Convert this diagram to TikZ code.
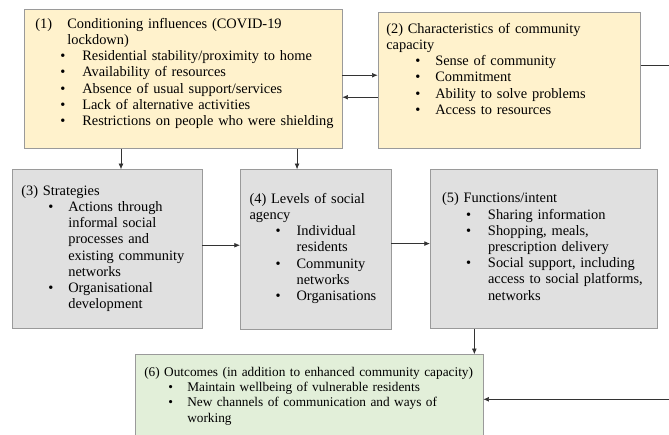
\documentclass[tikz,border=0pt]{standalone}
\usepackage{fontspec}
\setmainfont{Liberation Serif}
\usetikzlibrary{arrows.meta,calc}

\definecolor{capyellow}{HTML}{FFF2CC}
\definecolor{stepgray}{HTML}{E0E0E0}
\definecolor{outgreen}{HTML}{E2EFD9}
\definecolor{boxline}{HTML}{9A9A9A}
\definecolor{linkgray}{HTML}{333333}

% bullet position and text position inside a panel
\newlength\bulx
\newlength\txtx
\newcommand{\setbul}[2]{\setlength\bulx{#1}\setlength\txtx{#2}%
  \rightskip=-10pt plus 1fil\hyphenpenalty=10000\exhyphenpenalty=10000}
\newcommand{\itm}[1]{\par\leftskip=\txtx\noindent\llap{\makebox[\dimexpr\txtx-\bulx\relax][l]{\textbullet}}#1}

\begin{document}
\begin{tikzpicture}[x=1pt,y=-1pt,
    panel/.style n args={4}{draw=boxline, line width=0.6pt, anchor=north west, inner ysep=0pt,
        inner xsep=#1, text width=#2, text height=#3, text depth=#4, align=left,
        font=\fontsize{14.4}{16.2}\selectfont},
    smalltext/.style={font=\fontsize{13.3}{15.3}\selectfont},
    link/.style={draw=linkgray, line width=0.7pt, -{Latex[length=2mm,width=1.7mm]}}]

\useasboundingbox (0,0) rectangle (669,435);

% top row
\node[panel={10.7pt}{296pt}{18.7pt}{120pt}, fill=capyellow] (box1) at (24.3,9.3)
    {\setbul{25pt}{47pt}\hangindent=32pt\hangafter=1\noindent\makebox[32pt][l]{(1)}Conditioning influences (COVID-19\newline lockdown)
     \itm{Residential stability/proximity to home}
     \itm{Availability of resources}
     \itm{Absence of usual support/services}
     \itm{Lack of alternative activities}
     \itm{Restrictions on people who were shielding}\par};
\node[panel={8.3pt}{245.7pt}{21.3pt}{115.3pt}, fill=capyellow] (box2) at (377.7,11.7)
    {\setbul{29pt}{49pt}(2) Characteristics of community\newline capacity
     \itm{Sense of community}
     \itm{Commitment}
     \itm{Ability to solve problems}
     \itm{Access to resources}\par};

% middle row
\node[panel={9.3pt}{171.4pt}{25.7pt}{133pt}, fill=stepgray] (box3) at (11.7,169.3)
    {\setbul{27pt}{47pt}(3) Strategies
     \itm{Actions through\newline informal social\newline processes and\newline existing community\newline networks}
     \itm{Organisational\newline development}\par};
\node[panel={9.3pt}{132.1pt}{33.7pt}{126.3pt}, fill=stepgray] (box4) at (240,169.3)
    {\setbul{26pt}{47pt}(4) Levels of social\newline agency
     \itm{Individual\newline residents}
     \itm{Community\newline networks}
     \itm{Organisations}\par};
\node[panel={11.7pt}{203.3pt}{33.4pt}{125.6pt}, fill=stepgray] (box5) at (430,169.3)
    {\setbul{24pt}{46pt}(5) Functions/intent
     \itm{Sharing information}
     \itm{Shopping, meals,\newline prescription delivery}
     \itm{Social support, including\newline access to social platforms,\newline networks}\par};

% bottom
\node[panel={9pt}{329.7pt}{21.7pt}{67.7pt}, smalltext, fill=outgreen] (box6) at (135,354.3)
    {\setbul{24pt}{43pt}(6) Outcomes (in addition to enhanced community capacity)
     \itm{Maintain wellbeing of vulnerable residents}
     \itm{New channels of communication and ways of\newline working}\par};

% links
\coordinate (r1) at ([yshift=3.7pt]box1.east);
\coordinate (r2) at ([yshift=-18.3pt]box1.east);
\draw[link] (r1) -- (r1 -| box2.west);
\draw[link] (r2 -| box2.west) -- (r2);

\coordinate (d1) at ([xshift=14pt]box3.north);
\coordinate (d2) at ([xshift=-18.6pt]box4.north);
\draw[link] (d1 |- box1.south) -- (d1);
\draw[link] (d2 |- box1.south) -- (d2);

\coordinate (a1) at ([yshift=3.7pt]box3.east);
\coordinate (a2) at ([yshift=6pt]box4.east);
\draw[link] (a1) -- (a1 -| box4.west);
\draw[link] (a2) -- (a2 -| box5.west);

\coordinate (d3) at ([xshift=-69.3pt]box5.south);
\draw[link] (d3) -- (d3 |- box6.north);

\coordinate (r3) at ([yshift=15pt]box2.east);
\draw[link] (r3) -- ++(31,0) |- (box6.east);
\end{tikzpicture}
\end{document}
